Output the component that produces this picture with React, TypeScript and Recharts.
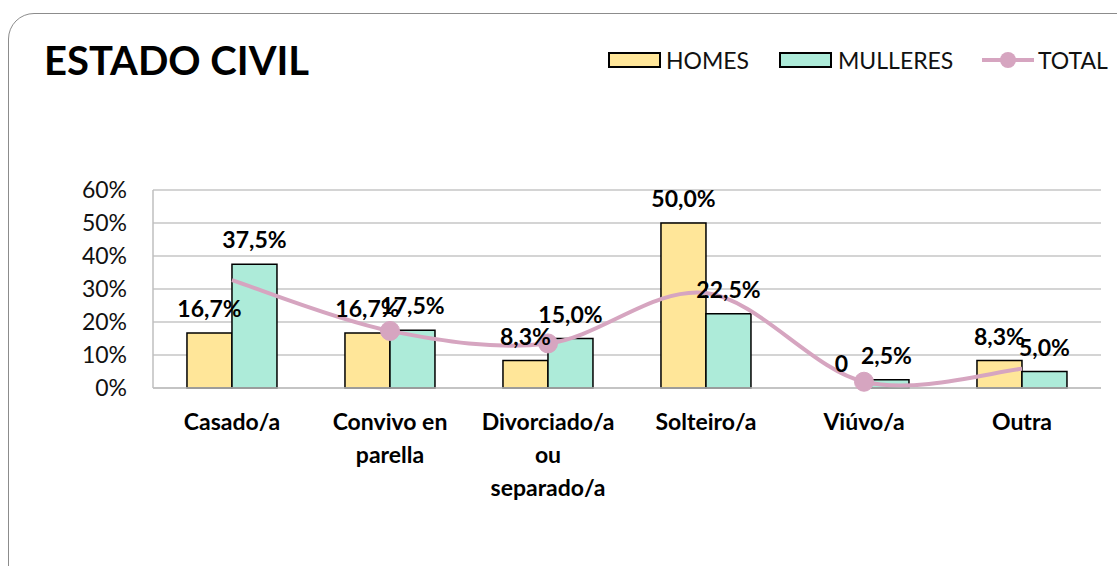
import React from 'react';
import {
  ComposedChart,
  Bar,
  Line,
  XAxis,
  YAxis,
  CartesianGrid,
  LabelList,
  Rectangle,
} from 'recharts';

// Values (percent)
const categories = [
  'Casado/a',
  'Convivo en parella',
  'Divorciado/a ou separado/a',
  'Solteiro/a',
  'Viúvo/a',
  'Outra',
];
const homes = [16.7, 16.7, 8.3, 50.0, 0, 8.3];
const mulleres = [37.5, 17.5, 15.0, 22.5, 2.5, 5.0];
const total = [32.7, 17.3, 13.5, 28.8, 1.9, 5.8];
const yTicks = [0, 10, 20, 30, 40, 50, 60];
// the TOTAL series only shows markers on these points
const totalMarked = ['Convivo en parella', 'Divorciado/a ou separado/a', 'Viúvo/a'];

const data = categories.map((name, i) => ({
  name,
  homes: homes[i],
  mulleres: mulleres[i],
  total: total[i],
}));

const FONT = 'Lato, "Open Sans", sans-serif';
const YELLOW = '#FFE699';
const MINT = '#ADEBD9';
const PINK = '#D6A5C0';

const fmtPct = (v: any) => (Number(v) === 0 ? '0' : `${Number(v).toFixed(1).replace('.', ',')}%`);

// Excel-like smoothed line (uniform Catmull-Rom as cubic beziers)
const smoothCurve = (context: any) => {
  let pts: number[][] = [];
  return {
    areaStart() {},
    areaEnd() {},
    lineStart() {
      pts = [];
    },
    point(x: number, y: number) {
      pts.push([+x, +y]);
    },
    lineEnd() {
      if (!pts.length) return;
      context.moveTo(pts[0][0], pts[0][1]);
      for (let i = 0; i < pts.length - 1; i++) {
        const p0 = pts[i - 1] || pts[i];
        const p1 = pts[i];
        const p2 = pts[i + 1];
        const p3 = pts[i + 2] || pts[i + 1];
        context.bezierCurveTo(
          p1[0] + (p2[0] - p0[0]) / 6,
          p1[1] + (p2[1] - p0[1]) / 6,
          p2[0] - (p3[0] - p1[0]) / 6,
          p2[1] - (p3[1] - p1[1]) / 6,
          p2[0],
          p2[1]
        );
      }
    },
  };
};

const wrapLabel = (s: string, max = 12) => {
  const words = s.split(' ');
  const lines: string[] = [];
  let cur = '';
  words.forEach((w) => {
    const next = cur ? `${cur} ${w}` : w;
    if (next.length > max && cur) {
      lines.push(cur);
      cur = w;
    } else {
      cur = next;
    }
  });
  if (cur) lines.push(cur);
  return lines;
};

const CategoryTick = (props: any) => {
  const { x, y, payload } = props;
  const lines = wrapLabel(payload.value);
  return (
    <text x={x} y={y} textAnchor="middle" fontFamily={FONT} fontWeight="bold" fontSize={23} fill="#000">
      {lines.map((l, i) => (
        <tspan key={i} x={x} dy={i === 0 ? 42 : 33}>
          {l}
        </tspan>
      ))}
    </text>
  );
};

// bar value label
const BarValueLabel = (props: any) => {
  const { x, y, width, value } = props;
  if (value === undefined || value === null) return null;
  return (
    <text
      x={Number(x) + Number(width) / 2}
      y={Number(y) - 16}
      textAnchor="middle"
      fontFamily={FONT}
      fontWeight="bold"
      fontSize={23}
      fill="#000"
    >
      {fmtPct(value)}
    </text>
  );
};

// zero bars get a tiny min size so their label survives; don't draw them
const BarShape = (props: any) => {
  if (Math.abs(Number(props.height)) < 0.5) return <g />;
  return <Rectangle {...props} />;
};

const TotalDot = (props: any) => {
  const { cx, cy, payload, index } = props;
  if (!totalMarked.includes(payload?.name)) return <g key={`d-${index}`} />;
  return <circle key={`d-${index}`} cx={cx} cy={cy} r={9.5} fill={PINK} stroke={PINK} />;
};

const App = () => {
  return (
    <div
      style={{
        position: 'fixed',
        left: 0,
        top: 0,
        width: 1117,
        height: 566,
        overflow: 'hidden',
        background: '#fff',
        fontFamily: FONT,
      }}
    >
      {/* outer card border, runs off the right and bottom edges */}
      <div
        style={{
          position: 'absolute',
          left: 8,
          top: 13,
          width: 1300,
          height: 800,
          border: '1px solid #8c8c8c',
          borderRadius: 26,
        }}
      />

      <div
        style={{
          position: 'absolute',
          left: 44,
          top: 36,
          fontSize: 40,
          lineHeight: '48px',
          fontWeight: 'bold',
          color: '#000',
        }}
      >
        ESTADO CIVIL
      </div>

      {/* legend */}
      <div style={{ position: 'absolute', left: 608, top: 52, width: 49, height: 12, background: YELLOW, border: '2px solid #000' }} />
      <div style={{ position: 'absolute', left: 666, top: 46, fontSize: 23, lineHeight: '28px', color: '#111' }}>HOMES</div>
      <div style={{ position: 'absolute', left: 779, top: 52, width: 49, height: 12, background: MINT, border: '2px solid #000' }} />
      <div style={{ position: 'absolute', left: 838, top: 46, fontSize: 23, lineHeight: '28px', color: '#111' }}>MULLERES</div>
      <svg style={{ position: 'absolute', left: 980, top: 48 }} width={58} height={24}>
        <line x1={2} y1={12} x2={54} y2={12} stroke={PINK} strokeWidth={4} />
        <circle cx={28} cy={12} r={8} fill={PINK} />
      </svg>
      <div style={{ position: 'absolute', left: 1038, top: 46, fontSize: 23, lineHeight: '28px', color: '#111' }}>TOTAL</div>

      <div style={{ position: 'absolute', left: 0, top: 0 }}>
        <ComposedChart
          width={1117}
          height={566}
          data={data}
          margin={{ top: 190, right: 16, bottom: 0, left: 0 }}
          barCategoryGap="21.5%"
          barGap={0}
        >
          <CartesianGrid vertical={false} stroke="#c6c6c6" strokeWidth={1.5} />
          <XAxis
            dataKey="name"
            height={178}
            interval={0}
            tickLine={false}
            tickSize={0}
            tickMargin={0}
            axisLine={{ stroke: '#bfbfbf', strokeWidth: 1.5 }}
            tick={<CategoryTick />}
          />
          <YAxis
            width={153}
            domain={[0, 60]}
            ticks={yTicks}
            interval={0}
            tickFormatter={(v) => `${v}%`}
            tickLine={false}
            tickSize={0}
            tickMargin={26}
            axisLine={{ stroke: '#bfbfbf', strokeWidth: 1.5 }}
            tick={{ fontFamily: FONT, fontSize: 23, fill: '#111' }}
          />
          <Bar
            dataKey="homes"
            name="HOMES"
            fill={YELLOW}
            stroke="#000"
            strokeWidth={1.5}
            minPointSize={0.1}
            shape={<BarShape />}
            isAnimationActive={false}
          >
            <LabelList dataKey="homes" content={<BarValueLabel />} />
          </Bar>
          <Bar
            dataKey="mulleres"
            name="MULLERES"
            fill={MINT}
            stroke="#000"
            strokeWidth={1.5}
            minPointSize={0.1}
            shape={<BarShape />}
            isAnimationActive={false}
          >
            <LabelList dataKey="mulleres" content={<BarValueLabel />} />
          </Bar>
          <Line
            dataKey="total"
            name="TOTAL"
            type={smoothCurve as any}
            stroke={PINK}
            strokeWidth={4}
            dot={<TotalDot />}
            activeDot={false}
            isAnimationActive={false}
          />
        </ComposedChart>
      </div>
    </div>
  );
};

export default App;
